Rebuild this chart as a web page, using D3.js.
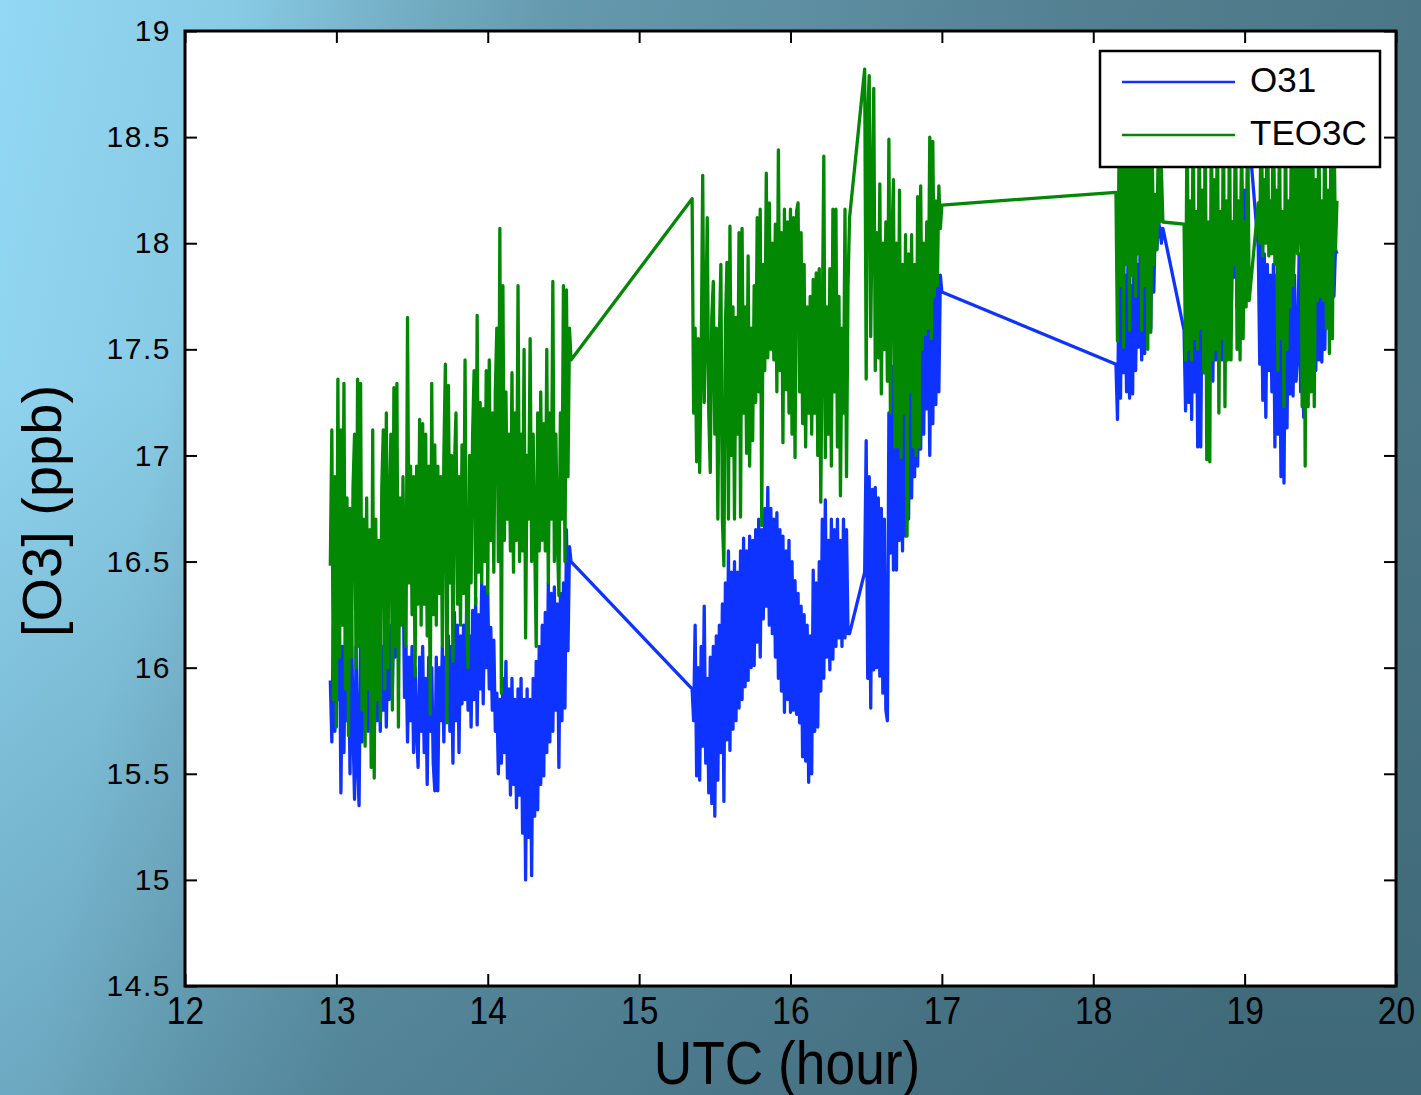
<!DOCTYPE html>
<html>
<head>
<meta charset="utf-8">
<script src="https://cdn.jsdelivr.net/npm/d3@7"></script>
<style>
  html, body { margin: 0; padding: 0; overflow: hidden; background: #5a8a9c; }
</style>
</head>
<body>
<div id="chart"></div>
<script>
// sampling step (hours) inside each recorded block
const STEP = 0.01;

// start time (UTC hour) of each recorded block
const segmentStarts = [12.96, 15.35, 16.49, 18.15, 18.60, 19.09];

const xTicks = [12, 13, 14, 15, 16, 17, 18, 19, 20];
const xTickLabels = ["12", "13", "14", "15", "16", "17", "18", "19", "20"];
const yTicks = [14.5, 15, 15.5, 16, 16.5, 17, 17.5, 18, 18.5, 19];
const yTickLabels = ["14.5", "15", "15.5", "16", "16.5", "17", "17.5", "18", "18.5", "19"];

const seriesNames = ["O31", "TEO3C"];

// O31 readings (ppb), block by block
const o31A = [
  15.94, 15.65, 16.20, 15.70, 16.30, 15.85, 16.25, 15.41, 16.10, 15.60,
  16.20, 15.75, 16.15, 15.50, 16.25, 15.70, 15.38, 16.10, 15.55, 15.35,
  16.20, 15.65, 16.10, 15.80, 16.25, 15.70, 16.15, 15.75, 16.20, 15.68,
  16.05, 15.75, 16.20, 15.70, 16.10, 15.80, 16.25, 15.72, 16.15, 15.85,
  16.20, 15.90, 16.30, 16.05, 16.45, 16.20, 16.66, 16.40, 16.55, 15.86,
  16.10, 15.65, 16.05, 15.75, 16.10, 15.60, 16.00, 15.70, 15.53, 16.05,
  15.70, 16.10, 15.60, 15.95, 15.45, 16.05, 15.70, 16.00, 15.55, 15.42,
  16.05, 15.42, 16.00, 15.75, 16.10, 15.65, 16.05, 15.80, 16.15, 15.70,
  16.10, 15.55, 16.26, 15.75, 16.20, 15.60, 16.15, 15.83, 16.20, 15.85,
  16.26, 15.80, 16.15, 15.72, 16.27, 15.85, 16.33, 15.73, 16.25, 15.90,
  16.40, 15.83, 16.38, 16.00, 16.35, 15.90, 16.19, 15.80, 16.13, 15.70,
  15.88, 15.50, 15.85, 15.55, 15.95, 15.60, 16.03, 15.48, 15.90, 15.40,
  15.95, 15.45, 15.85, 15.34, 15.90, 15.40, 15.95, 15.22, 15.85, 15.00,
  15.90, 15.20, 15.85, 15.02, 15.95, 15.30, 16.03, 15.33, 16.10, 15.45,
  16.20, 15.49, 16.26, 15.60, 16.40, 15.65, 16.35, 15.70, 16.38, 15.80,
  16.30, 15.53, 16.35, 15.75, 16.40, 15.81, 16.65, 16.08, 16.57, 16.50
];
const o31B = [
  15.90, 15.75, 16.20, 15.49, 16.00, 15.47, 16.10, 15.63, 16.29, 15.55,
  15.95, 15.41, 16.05, 15.36, 16.10, 15.30, 16.15, 15.47, 16.20, 15.60,
  16.30, 15.37, 16.40, 15.66, 16.55, 15.61, 16.45, 15.71, 16.50, 15.75,
  16.45, 15.81, 16.55, 15.85, 16.61, 15.91, 16.55, 15.94, 16.62, 16.00,
  16.60, 16.01, 16.65, 16.12, 16.70, 16.05, 16.65, 16.23, 16.75, 16.29,
  16.85, 16.20, 16.75, 16.16, 16.70, 16.05, 16.73, 15.95, 16.65, 15.89,
  16.62, 15.79, 16.55, 15.85, 16.60, 15.79, 16.50, 15.80, 16.41, 15.78,
  16.35, 15.74, 16.29, 15.58, 16.25, 15.56, 16.20, 15.46, 16.15, 15.50,
  16.46, 15.70, 16.40, 15.72, 16.50, 15.89, 16.70, 15.95, 16.79, 16.05,
  16.60, 15.99, 16.70, 16.04, 16.65, 16.10, 16.70, 16.14, 16.60, 16.10,
  16.70, 16.14, 16.65, 16.16, 16.16
];
const o31C = [
  16.45, 17.07, 15.95, 16.90, 15.81, 16.84, 15.99, 16.85, 16.00, 16.80,
  15.96, 16.75, 15.88, 16.70, 15.80, 15.75, 17.20, 16.54, 17.42, 16.46,
  17.30, 16.46, 17.40, 16.60, 17.35, 16.55, 17.45, 16.62, 17.50, 16.70,
  17.55, 16.80, 17.50, 16.90, 17.60, 16.95, 17.55, 17.03, 17.65, 17.10,
  17.70, 17.22, 17.65, 17.00, 17.75, 17.15, 17.80, 17.24, 17.89, 17.30,
  17.85, 17.77
];
const o31D = [
  17.43, 17.17, 17.80, 17.27, 17.90, 17.39, 17.85, 17.30, 17.95, 17.27,
  17.80, 17.29, 18.00, 17.40, 17.90, 17.51, 18.00, 17.45, 17.95, 17.48,
  18.05, 17.72, 18.10, 17.60, 18.23, 17.77, 18.10, 17.97, 18.10, 18.07,
  18.00, 18.07
];
const o31E1 = [
  17.59, 17.21, 17.80, 17.25, 17.85, 17.17, 17.90, 17.30, 17.95, 17.04,
  17.85, 17.04, 17.90, 17.39, 17.95, 17.30, 18.00, 17.45, 17.90, 17.35,
  18.00, 17.45, 17.95, 17.50, 18.05, 17.45, 18.00, 17.55, 18.10, 17.50,
  18.05, 17.60, 18.10, 17.84, 18.20, 17.70, 18.15, 17.65, 18.30, 17.80,
  18.25, 17.85, 18.40, 18.50
];
const o31E2 = [
  17.98, 17.43, 18.01, 17.26, 17.95, 17.18, 17.90, 17.40, 17.85, 17.30,
  17.90, 17.04, 17.85, 17.10, 17.80, 16.90, 17.75, 16.87, 17.80, 17.13,
  17.85, 17.29, 17.90, 17.28, 17.85, 17.35, 17.48, 17.95, 17.30, 17.90,
  17.18, 17.85, 17.25, 17.90, 17.30, 17.85, 17.45, 17.95, 17.40, 17.90,
  17.45, 17.95, 17.44, 17.90, 17.50, 18.00, 17.73, 17.95, 17.60, 18.00,
  17.75, 17.97, 17.95
];

// TEO3C readings (ppb), block by block
const teo3cA = [
  16.48, 17.12, 15.85, 16.90, 15.72, 17.36, 16.05, 17.12, 16.20, 17.34,
  15.90, 16.80, 15.68, 16.75, 16.05, 16.85, 17.10, 16.00, 17.36, 16.10,
  17.34, 15.80, 16.70, 15.63, 16.80, 15.90, 16.65, 15.53, 17.12, 15.48,
  16.70, 15.85, 16.60, 15.75, 16.85, 17.12, 15.90, 17.20, 16.00, 16.75,
  17.10, 15.80, 17.32, 16.10, 17.34, 15.72, 16.80, 16.20, 16.90, 16.30,
  16.10, 17.65, 16.40, 16.95, 16.25, 16.90, 15.96, 16.95, 16.30, 17.17,
  16.20, 17.15, 16.30, 17.10, 16.15, 16.95, 15.78, 17.34, 16.25, 17.05,
  16.20, 16.95, 16.35, 16.90, 16.10, 17.00, 17.43, 15.74, 17.33, 16.40,
  17.00, 16.03, 16.95, 17.20, 16.30, 16.90, 16.20, 17.05, 16.35, 17.45,
  16.25, 16.00, 17.00, 16.40, 17.10, 17.40, 16.30, 17.66, 16.45, 17.25,
  16.40, 17.22, 16.50, 17.40, 16.35, 17.45, 16.60, 17.20, 16.45, 17.30,
  17.60, 16.50, 18.07, 15.88, 17.80, 16.60, 17.30, 16.70, 17.10, 16.55,
  17.39, 16.45, 17.20, 16.60, 17.80, 16.50, 17.10, 16.55, 17.50, 16.14,
  17.00, 16.70, 17.55, 16.50, 17.10, 16.60, 16.10, 17.20, 16.55, 17.30,
  16.60, 17.15, 16.55, 17.50, 16.40, 17.20, 16.70, 17.82, 16.50, 17.10,
  16.60, 16.34, 17.20, 16.70, 17.80, 16.50, 17.78, 16.90, 17.60, 17.45
];
const teo3cB = [
  18.21, 17.20, 17.60, 16.97, 17.55, 16.92, 17.45, 18.32, 17.25, 17.60,
  18.12, 17.20, 16.92, 17.65, 17.82, 17.10, 17.60, 16.70, 17.55, 17.90,
  16.70, 16.48, 17.60, 17.91, 16.70, 18.08, 17.00, 17.70, 16.70, 17.65,
  17.10, 18.05, 16.71, 18.07, 17.20, 17.70, 17.01, 17.94, 16.95, 17.60,
  17.07, 17.80, 17.25, 18.12, 17.30, 18.16, 16.67, 17.90, 17.40, 18.33,
  17.46, 18.19, 17.50, 18.00, 17.45, 18.09, 17.30, 18.44, 17.40, 18.05,
  17.06, 18.16, 17.31, 18.10, 17.20, 18.16, 17.10, 18.12, 16.99, 18.15,
  18.19, 17.30, 18.05, 17.15, 17.90, 17.04, 17.70, 17.20, 17.75, 17.10,
  17.83, 17.20, 17.86, 17.00, 17.88, 16.78, 17.60, 18.41, 16.99, 17.70,
  17.10, 17.88, 16.95, 18.16, 17.30, 18.16, 17.04, 17.75, 16.81, 17.60,
  17.20, 18.16, 16.90, 17.80, 18.12
];
const teo3cC = [
  18.82, 17.36, 18.60, 18.79, 17.56, 18.20, 18.73, 17.40, 18.05, 17.46,
  18.28, 17.29, 18.00, 17.50, 18.10, 17.35, 18.49, 17.20, 18.00, 18.30,
  17.04, 18.00, 17.04, 18.25, 16.99, 17.90, 17.20, 18.04, 16.62, 17.95,
  17.30, 18.04, 17.04, 17.90, 17.00, 18.22, 17.04, 18.27, 17.50, 18.00,
  17.57, 18.10, 17.60, 18.50, 17.55, 18.48, 17.75, 18.20, 17.80, 18.27,
  18.07, 18.18
];
const teo3cD = [
  18.24, 17.54, 18.40, 17.80, 18.70, 17.51, 18.65, 17.90, 18.80, 17.59,
  18.55, 17.85, 18.70, 17.75, 18.60, 17.95, 18.75, 17.59, 18.50, 17.80,
  18.65, 17.50, 18.60, 17.58, 18.40, 17.90, 18.23, 17.97, 18.50, 18.10,
  18.35, 18.10
];
const teo3cE1 = [
  18.09, 17.45, 18.70, 17.50, 18.20, 17.45, 18.65, 17.55, 18.15, 17.50,
  18.60, 17.60, 18.25, 17.39, 18.70, 16.98, 18.10, 16.97, 18.70, 17.45,
  18.30, 17.50, 18.75, 17.20, 18.15, 17.55, 18.70, 17.23, 18.20, 17.45,
  18.65, 17.45, 18.10, 17.90, 18.65, 17.50, 18.20, 17.45, 18.60, 17.55,
  18.10, 17.70, 18.60, 17.73
];
const teo3cE2 = [
  18.19, 18.00, 18.70, 17.94, 18.30, 18.00, 18.75, 17.94, 18.20, 17.95,
  18.70, 17.90, 18.25, 17.40, 18.60, 17.55, 18.15, 17.23, 18.65, 17.50,
  18.20, 17.70, 18.70, 17.80, 18.00, 18.60, 17.95, 18.12, 18.70, 17.23,
  18.50, 16.95, 18.60, 17.23, 18.40, 17.30, 18.65, 17.23, 18.30, 17.73,
  18.60, 17.75, 18.20, 17.73, 18.65, 17.60, 18.25, 17.48, 18.50, 17.55,
  18.60, 17.97, 18.20
];

const o31Blocks = [o31A, o31B, o31C, o31D, o31E1, o31E2];
const teo3cBlocks = [teo3cA, teo3cB, teo3cC, teo3cD, teo3cE1, teo3cE2];

function toPoints(blocks) {
  const pts = [];
  blocks.forEach((vals, b) => {
    vals.forEach((v, i) => pts.push({ t: segmentStarts[b] + i * STEP, v: v }));
  });
  return pts;
}

const W = 1421, H = 1095;
const plot = { left: 185, right: 1396, top: 31, bottom: 986 };
const fontFamily = "'Liberation Sans', Arial, Helvetica, sans-serif";
const blueColor = "#0f33ff";
const greenColor = "#038803";
const lineWidth = 3.3;

const svg = d3.select("#chart").append("svg")
  .attr("width", W).attr("height", H)
  .style("display", "block")
  .style("font-family", fontFamily);

// background: mostly left-to-right fade, darker towards the bottom
const defs = svg.append("defs");
const grad = defs.append("linearGradient")
  .attr("id", "bg").attr("gradientUnits", "userSpaceOnUse")
  .attr("x1", 0).attr("y1", 0).attr("x2", W).attr("y2", H * 0.25);
[[0, "#93d8f4"], [0.16, "#88cbe5"], [0.27, "#74afc5"], [0.38, "#6599ad"],
 [0.55, "#5d8ea1"], [0.75, "#537f90"], [1, "#4a7584"]].forEach(s => {
  grad.append("stop").attr("offset", s[0]).attr("stop-color", s[1]);
});
const shade = defs.append("linearGradient")
  .attr("id", "shade").attr("x1", 0).attr("y1", 0).attr("x2", 0).attr("y2", 1);
shade.append("stop").attr("offset", 0.35).attr("stop-color", "#1d4658").attr("stop-opacity", 0);
shade.append("stop").attr("offset", 1).attr("stop-color", "#1d4658").attr("stop-opacity", 0.26);
svg.append("rect").attr("width", W).attr("height", H).attr("fill", "url(#bg)");
svg.append("rect").attr("width", W).attr("height", H).attr("fill", "url(#shade)");

defs.append("clipPath").attr("id", "plotclip").append("rect")
  .attr("x", plot.left).attr("y", plot.top)
  .attr("width", plot.right - plot.left).attr("height", plot.bottom - plot.top);

const x = d3.scaleLinear().domain([12, 20]).range([plot.left, plot.right]);
const y = d3.scaleLinear().domain([14.5, 19]).range([plot.bottom, plot.top]);

svg.append("rect")
  .attr("x", plot.left).attr("y", plot.top)
  .attr("width", plot.right - plot.left).attr("height", plot.bottom - plot.top)
  .attr("fill", "#fff");

// data lines
const line = d3.line().x(d => x(d.t)).y(d => y(d.v));
const lines = svg.append("g").attr("clip-path", "url(#plotclip)");
lines.append("path").datum(toPoints(o31Blocks))
  .attr("fill", "none").attr("stroke", blueColor).attr("stroke-width", lineWidth)
  .attr("stroke-linejoin", "round").attr("d", line);
lines.append("path").datum(toPoints(teo3cBlocks))
  .attr("fill", "none").attr("stroke", greenColor).attr("stroke-width", lineWidth)
  .attr("stroke-linejoin", "round").attr("d", line);

// axes, ticks pointing inwards on all four sides
const xAxis = svg.append("g").attr("transform", `translate(0,${plot.bottom})`)
  .call(d3.axisBottom(x).tickValues(xTicks).tickSizeInner(-12).tickSizeOuter(0)
    .tickPadding(10).tickFormat((d, i) => xTickLabels[i]));
xAxis.selectAll("text")
  .attr("font-size", 39).attr("fill", "#000")
  .attr("font-family", fontFamily)
  .attr("transform", "scale(0.86,1)");

const yAxis = svg.append("g").attr("transform", `translate(${plot.left},0)`)
  .call(d3.axisLeft(y).tickValues(yTicks).tickSizeInner(-12).tickSizeOuter(0)
    .tickPadding(14).tickFormat((d, i) => yTickLabels[i]));
yAxis.selectAll("text")
  .attr("font-size", 30).attr("fill", "#000")
  .attr("font-family", fontFamily)
  .attr("letter-spacing", 1.5);

svg.append("g").attr("transform", `translate(0,${plot.top})`)
  .call(d3.axisTop(x).tickValues(xTicks).tickSizeInner(-12).tickSizeOuter(0).tickFormat(""));
svg.append("g").attr("transform", `translate(${plot.right},0)`)
  .call(d3.axisRight(y).tickValues(yTicks).tickSizeInner(-12).tickSizeOuter(0).tickFormat(""));

svg.selectAll(".domain").remove();
svg.selectAll(".tick line").attr("stroke", "#000").attr("stroke-width", 2);

// frame
svg.append("rect")
  .attr("x", plot.left).attr("y", plot.top)
  .attr("width", plot.right - plot.left).attr("height", plot.bottom - plot.top)
  .attr("fill", "none").attr("stroke", "#000").attr("stroke-width", 3);

// axis titles
svg.append("text")
  .attr("transform", `translate(787,1084) scale(0.86,1)`)
  .attr("text-anchor", "middle")
  .attr("font-size", 62).attr("fill", "#000")
  .text("UTC (hour)");

svg.append("text")
  .attr("transform", "translate(61,511) rotate(-90)")
  .attr("text-anchor", "middle")
  .attr("font-size", 56).attr("fill", "#000")
  .text("[O3] (ppb)");

// legend
const legend = svg.append("g");
legend.append("rect")
  .attr("x", 1100).attr("y", 51).attr("width", 280).attr("height", 116)
  .attr("fill", "#fff").attr("stroke", "#000").attr("stroke-width", 2.5);
[blueColor, greenColor].forEach((c, i) => {
  const ly = 82 + i * 53;
  legend.append("line")
    .attr("x1", 1122).attr("x2", 1235).attr("y1", ly).attr("y2", ly)
    .attr("stroke", c).attr("stroke-width", 2.6);
  legend.append("text")
    .attr("x", 1250).attr("y", ly + 10)
    .attr("font-size", 35).attr("fill", "#000")
    .text(seriesNames[i]);
});
</script>
</body>
</html>
